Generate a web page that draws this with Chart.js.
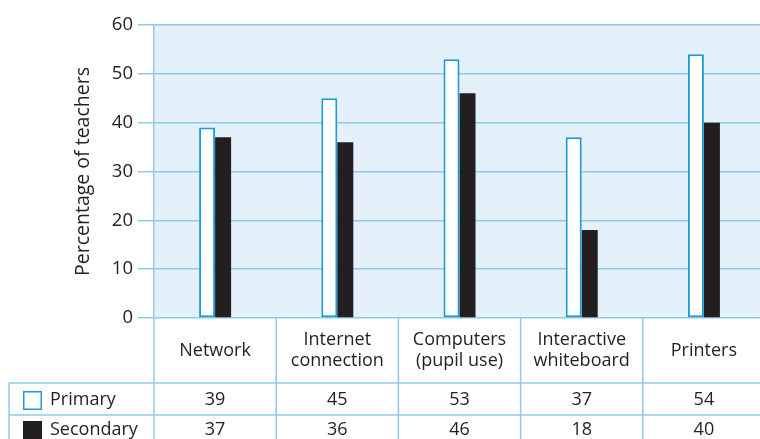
<!DOCTYPE html>
<html><head><meta charset="utf-8">
<script src="https://cdn.jsdelivr.net/npm/chart.js@4"></script>
<style>
html,body{margin:0;padding:0;background:#fff;overflow:hidden;width:760px;height:439px}
#wrap{width:760px;height:439px;overflow:hidden;position:relative}
canvas{display:block}
</style></head><body>
<div id="wrap"><canvas id="c" width="765" height="439" style="width:765px;height:439px"></canvas></div>
<script>
const categories = [["Network"], ["Internet", "connection"], ["Computers", "(pupil use)"], ["Interactive", "whiteboard"], ["Printers"]];
const primary = [39, 45, 53, 37, 54];
const secondary = [37, 36, 46, 18, 40];
const seriesNames = ["Primary", "Secondary"];
const yTickValues = [0, 10, 20, 30, 40, 50, 60];
const yTitle = "Percentage of teachers";

const FONT = "'Open Sans', 'Noto Sans', sans-serif";
const TEXT = "#231f20";
const LINE = "#8ecbe8";
const BLUE = "#1e9ad6";
const BG = "#e4f1fa";

const bgPlugin = {
  id: 'bg',
  beforeDraw(chart) {
    const {ctx, chartArea: a} = chart;
    ctx.save();
    ctx.fillStyle = BG;
    ctx.fillRect(a.left, a.top, a.right - a.left, a.bottom - a.top);
    ctx.restore();
  }
};

const tablePlugin = {
  id: 'table',
  afterDraw(chart) {
    const {ctx, chartArea: a, scales: {x}} = chart;
    const n = categories.length;
    const colW = x.getPixelForValue(1) - x.getPixelForValue(0);
    const headTop = a.bottom;
    const headBot = headTop + 65;
    const row1Bot = headBot + 32;
    const row2Bot = row1Bot + 32;
    const tableLeft = 9;
    ctx.save();
    ctx.strokeStyle = LINE;
    ctx.lineWidth = 1.5;
    ctx.beginPath();
    for (let i = 0; i <= n; i++) {
      const bx = x.getPixelForValue(i) - colW / 2;
      ctx.moveTo(bx, headTop);
      ctx.lineTo(bx, row2Bot + 10);
    }
    ctx.moveTo(tableLeft, headBot);
    ctx.lineTo(tableLeft, row2Bot + 10);
    ctx.moveTo(tableLeft, headBot);
    ctx.lineTo(a.right + 10, headBot);
    ctx.moveTo(tableLeft, row1Bot);
    ctx.lineTo(a.right + 10, row1Bot);
    ctx.moveTo(tableLeft, row2Bot);
    ctx.lineTo(a.right + 10, row2Bot);
    ctx.stroke();

    ctx.fillStyle = TEXT;
    ctx.font = "18px " + FONT;
    ctx.textAlign = 'center';
    ctx.textBaseline = 'middle';
    const headMid = (headTop + headBot) / 2;
    for (let i = 0; i < n; i++) {
      const cx = x.getPixelForValue(i);
      const lines = categories[i];
      const lh = 20.5;
      const start = headMid - (lines.length - 1) * lh / 2;
      lines.forEach((t, j) => ctx.fillText(t, cx, start + j * lh));
      ctx.fillText(String(primary[i]), cx, (headBot + row1Bot) / 2 + 1);
      ctx.fillText(String(secondary[i]), cx, (row1Bot + row2Bot) / 2 - 1);
    }
    ctx.textAlign = 'left';
    const r1 = (headBot + row1Bot) / 2 + 1;
    const r2 = (row1Bot + row2Bot) / 2 - 1;
    ctx.fillStyle = '#ffffff';
    ctx.fillRect(23, r1 - 9, 19, 19);
    ctx.strokeStyle = BLUE;
    ctx.lineWidth = 1.5;
    ctx.strokeRect(23.75, r1 - 8.25, 17.5, 17.5);
    ctx.fillStyle = TEXT;
    ctx.fillRect(23, r2 - 9, 19, 19);
    ctx.fillText(seriesNames[0], 50, r1);
    ctx.fillText(seriesNames[1], 50, r2);
    ctx.restore();
  }
};

new Chart(document.getElementById('c'), {
  type: 'bar',
  data: {
    labels: categories,
    datasets: [
      {label: seriesNames[0], data: primary, backgroundColor: '#ffffff', borderColor: BLUE, borderWidth: 2, borderSkipped: false},
      {label: seriesNames[1], data: secondary, backgroundColor: TEXT, borderWidth: 0}
    ]
  },
  options: {
    responsive: false,
    animation: false,
    devicePixelRatio: 1,
    categoryPercentage: 0.262,
    barPercentage: 1,
    layout: {padding: {top: 25, bottom: 121, left: 0, right: 0}},
    plugins: {legend: {display: false}, tooltip: {enabled: false}},
    scales: {
      x: {display: false},
      y: {
        min: 0, max: 60,
        afterBuildTicks(scale) { scale.ticks = yTickValues.map(v => ({value: v})); },
        afterFit(scale) { scale.width = 154; },
        ticks: {color: TEXT, font: {family: FONT, size: 18.5}, padding: 5},
        grid: {color: LINE, lineWidth: 1.5, tickLength: 16, tickColor: LINE},
        border: {display: true, color: LINE, width: 1.5},
        title: {display: true, text: yTitle, color: TEXT, font: {family: FONT, size: 19.5}, padding: {top: 72, bottom: 0}}
      }
    }
  },
  plugins: [bgPlugin, tablePlugin]
});
</script>
</body></html>
